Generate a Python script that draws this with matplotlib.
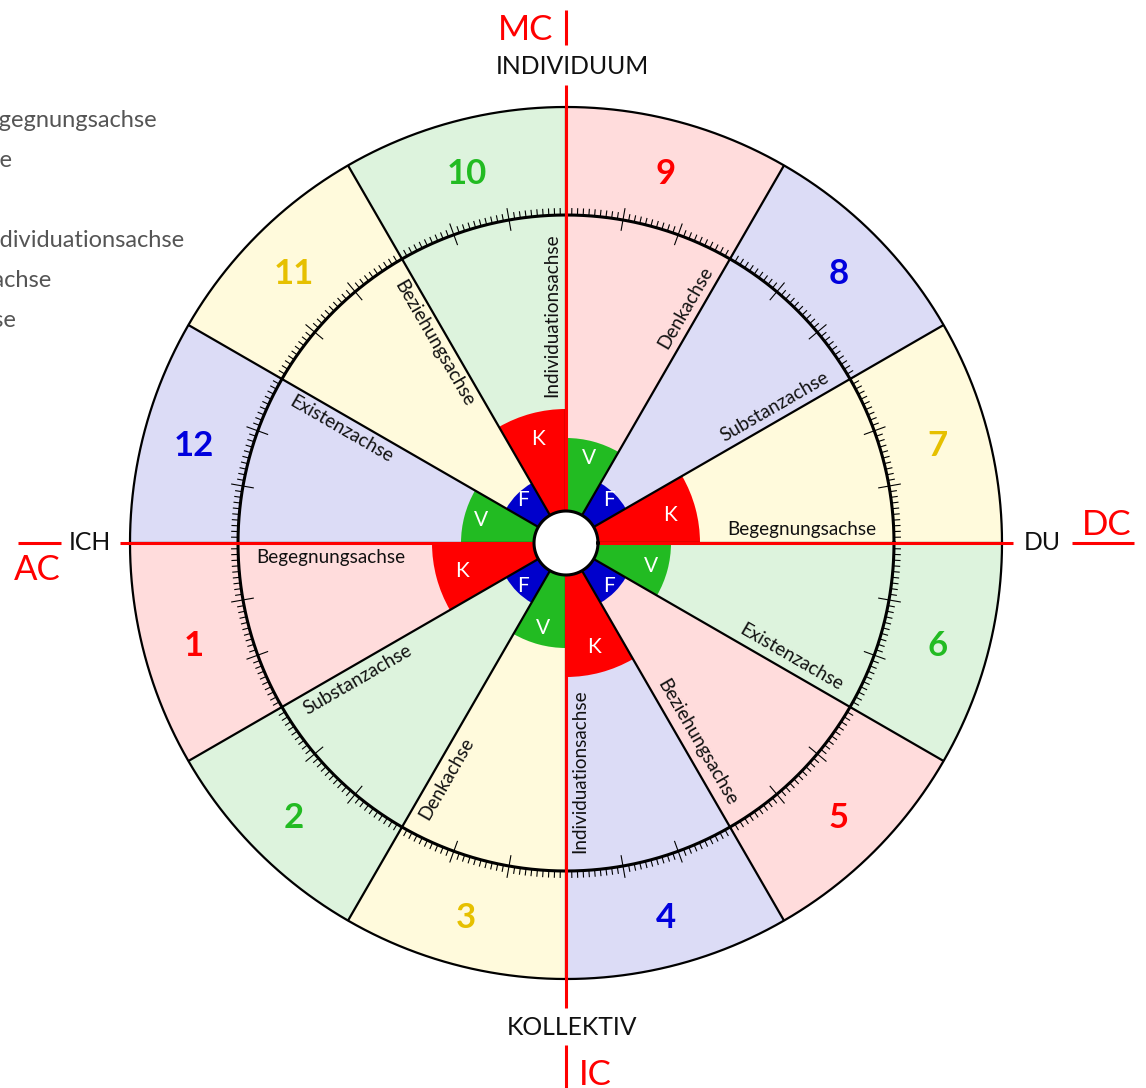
import numpy as np
import matplotlib
matplotlib.use('Agg')
import matplotlib.pyplot as plt

plt.rcParams['font.family'] = ['Lato', 'DejaVu Sans']

# ---------------- data ----------------
house_numbers = [1, 2, 3, 4, 5, 6, 7, 8, 9, 10, 11, 12]
house_fill = ['#ffdcdc', '#ddf3dd', '#fffadc', '#dcdcf6'] * 3
number_colors = ['#ff0000', '#22bb22', '#e6c000', '#0000dd'] * 3
inner_letters = ['K', 'F', 'V'] * 4
axis_names = ['Begegnungsachse', 'Substanzachse', 'Denkachse',
              'Individuationsachse', 'Beziehungsachse', 'Existenzachse'] * 2
cardinal_labels = ['DU', 'INDIVIDUUM', 'ICH', 'KOLLEKTIV']
angle_labels = ['DC', 'MC', 'AC', 'IC']
legend_lines = ['Begegnungsachse', 'Substanzachse', 'Denkachse',
                'Individuationsachse', 'Beziehungsachse', 'Existenzachse']

# ---------------- style / layout ----------------
letter_color = {'K': '#ff0000', 'V': '#22bb22', 'F': '#0000cc'}
letter_radius = {'K': 134, 'V': 105, 'F': 69}
letter_text_r = {'K': 108, 'V': 88, 'F': 61}

W, H = 1146, 1088
cx, cy = 566, 543
R = 436
R_RING = 328
R_CENTER = 32

fig = plt.figure(figsize=(W / 100, H / 100), dpi=100)
ax = fig.add_axes([(cx - R) / W, (H - cy - R) / H, 2 * R / W, 2 * R / H],
                  projection='polar')
ax.set_ylim(0, R)
ax.axis('off')

n = len(house_numbers)
starts_deg = (180 + 30 * np.arange(n)) % 360
starts = np.deg2rad(starts_deg)
mids = starts + np.deg2rad(15)
width = np.deg2rad(30)

# house sectors
ax.bar(mids, [R] * n, width=width, bottom=0, color=house_fill,
       edgecolor='none', linewidth=0, zorder=1)
# inner K/V/F sectors
ax.bar(mids, [letter_radius[l] for l in inner_letters], width=width, bottom=0,
       color=[letter_color[l] for l in inner_letters], edgecolor='none',
       linewidth=0, zorder=2)

# ticks on the ring
deg = np.arange(360)
major = (deg % 10 == 0) & (deg % 30 != 0)
ax.vlines(np.deg2rad(deg[~major]), R_RING, R_RING + 7, color='black',
          lw=0.8, zorder=4)
ax.vlines(np.deg2rad(deg[major]), R_RING - 11, R_RING + 12, color='black',
          lw=0.8, zorder=4)

th = np.linspace(0, 2 * np.pi, 1441)
ax.plot(th, np.full_like(th, R_RING), color='black', lw=2.2, zorder=5)
ax.plot(th, np.full_like(th, R), color='black', lw=1.6, zorder=5,
        clip_on=False)

# radial separators
ax.vlines(starts, R_CENTER, R, color='black', lw=1.6, zorder=5)

# red axes
card = np.deg2rad([0, 90, 180, 270])
lc = ax.vlines(card, 0, [447, 458, 446, 465], color='#ff0000', lw=2.2,
               zorder=6)
lc.set_clip_on(False)
lc2 = ax.vlines(card, [506, 498, 505, 502], [568, 533, 548, 560],
                color='#ff0000', lw=2.2, zorder=6)
lc2.set_clip_on(False)

# center disk
ax.bar(0, R_CENTER, width=2 * np.pi, bottom=0, color='white',
       edgecolor='none', zorder=7)
ax.plot(th, np.full_like(th, R_CENTER), color='black', lw=2.2, zorder=8)

# letters and house numbers
for i in range(n):
    l = inner_letters[i]
    ax.text(mids[i], letter_text_r[l], l, color='white', fontsize=15,
            ha='center', va='center', zorder=9)
    ax.text(mids[i], 385, str(house_numbers[i]), color=number_colors[i],
            fontsize=25, fontweight='bold', ha='center', va='center_baseline',
            zorder=9)

# axis names along radial lines
d, r0 = 14, 310
for i in range(n):
    t = starts_deg[i]
    tt = np.deg2rad(t) + np.arctan2(d, r0)
    rr = np.hypot(r0, d)
    if t <= 90 or t > 270:
        rot = t if t <= 90 else t - 360
        ha = 'right'
    else:
        rot = t - 180
        ha = 'left'
    ax.text(tt, rr, axis_names[i], rotation=rot, rotation_mode='anchor',
            ha=ha, va='center', fontsize=13.6, color='#111111', zorder=9)


def ftext(x, y, s, **kw):
    fig.text(x / W, 1 - y / H, s, **kw)


# cardinal labels
ftext(1042, 550, cardinal_labels[0], ha='center', va='baseline', fontsize=17.8, color='#111111')
ftext(572, 74, cardinal_labels[1], ha='center', va='baseline', fontsize=17.8, color='#111111')
ftext(90, 550, cardinal_labels[2], ha='center', va='baseline', fontsize=17.8, color='#111111')
ftext(572, 1035, cardinal_labels[3], ha='center', va='baseline', fontsize=17.8, color='#111111')

ftext(1107, 535, angle_labels[0], ha='center', va='baseline', fontsize=25, color='#ff0000')
ftext(553, 40, angle_labels[1], ha='right', va='baseline', fontsize=25, color='#ff0000')
ftext(37, 580, angle_labels[2], ha='center', va='baseline', fontsize=25, color='#ff0000')
ftext(579, 1085, angle_labels[3], ha='left', va='baseline', fontsize=25, color='#ff0000')

# partially visible legend at top-left
legend_end_x = [157, 12, -4, 185, 52, 17]
for k, s in enumerate(legend_lines):
    ftext(legend_end_x[k], 127 + 40 * k, s, ha='right', va='baseline',
          fontsize=17, color='#555555')

fig.savefig('out.png', dpi=100)
